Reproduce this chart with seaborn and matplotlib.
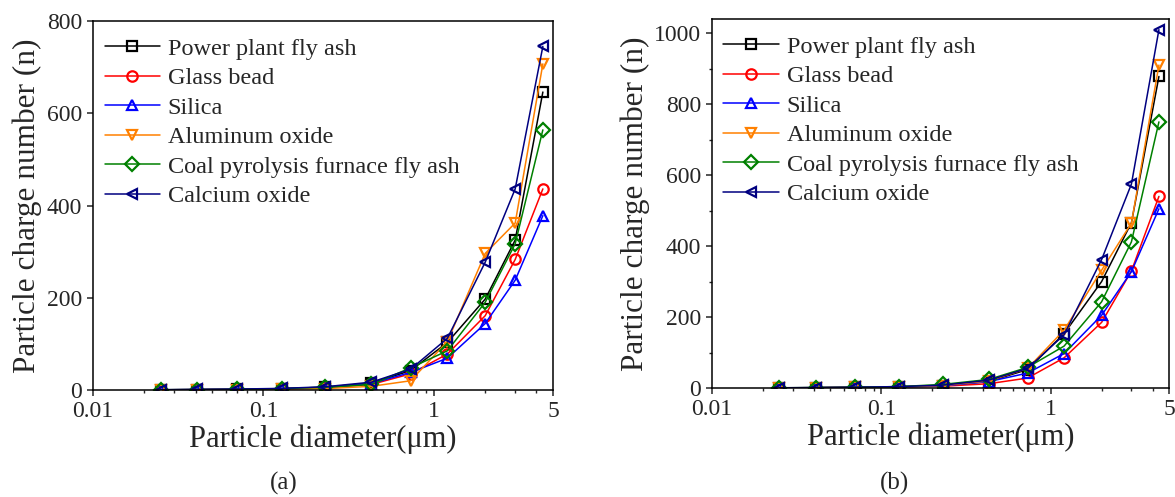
# Charge number vs particle diameter for six dust types, two operating conditions (a) and (b)

import matplotlib
matplotlib.use("Agg")
import matplotlib.pyplot as plt
from matplotlib.ticker import FixedLocator, NullFormatter, MultipleLocator
import pandas as pd
import seaborn as sns

# Particle diameters (um), same for every series
diameters = [0.025, 0.041, 0.07, 0.128, 0.23, 0.43, 0.73, 1.2, 2.0, 3.0, 4.36]

materials = ["Power plant fly ash", "Glass bead", "Silica", "Aluminum oxide",
             "Coal pyrolysis furnace fly ash", "Calcium oxide"]

# Panel (a) charge numbers
fly_ash_a = [0.5, 1, 1.5, 3, 6, 15, 42, 103, 197, 325, 646]
glass_a = [0.4, 0.8, 1.3, 2.5, 5, 12, 35, 78, 161, 283, 436]
silica_a = [0.4, 0.8, 1.3, 2.5, 5, 14, 38, 69, 144, 238, 378]
alumina_a = [0.3, 0.6, 1, 2, 3, 8, 20, 105, 296, 362, 707]
coal_a = [0.5, 1, 1.5, 3, 6, 12, 48, 85, 190, 317, 564]
cao_a = [0.6, 1.2, 2, 3.5, 7, 17, 45, 112, 277, 436, 745]

# Panel (b) charge numbers
fly_ash_b = [0.5, 1, 2, 3.5, 7, 18, 52, 153, 300, 466, 878]
glass_b = [0.4, 0.8, 1.5, 3, 5, 12, 28, 85, 185, 330, 540]
silica_b = [0.4, 0.9, 1.6, 3, 6, 18, 42, 97, 205, 328, 505]
alumina_b = [0.4, 0.9, 1.8, 3.5, 7, 20, 55, 163, 332, 465, 910]
coal_b = [0.6, 1.2, 2.2, 4, 10, 24, 58, 118, 243, 412, 750]
cao_b = [0.6, 1.2, 2.2, 4, 8, 22, 55, 150, 362, 575, 1010]

colors = ["black", "#FF0000", "#0000FF", "#FF8000", "#008000", "#000080"]
markers = ["s", "o", "^", "v", "D", "<"]

# Long-form tables for seaborn
def make_df(series):
    rows = []
    for name, vals in zip(materials, series):
        for d, v in zip(diameters, vals):
            rows.append({"Diameter": d, "Charge": v, "Material": name})
    return pd.DataFrame(rows)

df_a = make_df([fly_ash_a, glass_a, silica_a, alumina_a, coal_a, cao_a])
df_b = make_df([fly_ash_b, glass_b, silica_b, alumina_b, coal_b, cao_b])

sns.set_theme(style="ticks")
plt.rcParams["font.family"] = ["Liberation Serif", "DejaVu Serif"]
plt.rcParams["axes.linewidth"] = 1.1

fig = plt.figure(figsize=(11.75, 4.97), dpi=100)
ax_a = fig.add_axes([93 / 1175, 1 - 390 / 497, 460 / 1175, 369 / 497])
ax_b = fig.add_axes([712 / 1175, 1 - 388 / 497, 457 / 1175, 369 / 497])


def draw_panel(ax, df, ymax, yticks, minor_y):
    for name, col, mk in zip(materials, colors, markers):
        sub = df[df["Material"] == name]
        sns.lineplot(data=sub, x="Diameter", y="Charge", ax=ax, color=col,
                     marker=mk, markersize=7.5, markerfacecolor="none",
                     markeredgecolor=col, markeredgewidth=1.6,
                     linewidth=1.1, label=name)
    ax.set_xscale("log")
    ax.set_xlim(0.01, 5)
    ax.set_ylim(0, ymax)
    ax.xaxis.set_major_locator(FixedLocator([0.01, 0.1, 1, 5]))
    ax.set_xticklabels(["0.01", "0.1", "1", "5"])
    minors = [m * 10.0 ** e for e in (-2, -1, 0) for m in range(2, 10)]
    ax.xaxis.set_minor_locator(FixedLocator([m for m in minors if m < 5]))
    ax.xaxis.set_minor_formatter(NullFormatter())
    ax.set_yticks(yticks)
    if minor_y:
        ax.yaxis.set_minor_locator(MultipleLocator(100))
    ax.tick_params(which="major", direction="out", length=4, width=1.1,
                   labelsize=17, pad=4, top=False, right=False)
    ax.tick_params(which="minor", direction="out", length=2.5, width=1.0,
                   top=False, right=False)
    if not minor_y:
        ax.tick_params(axis="y", which="minor", left=False)
    for sp in ax.spines.values():
        sp.set_visible(True)
        sp.set_linewidth(1.1)
        sp.set_color("black")
    ax.set_xlabel("Particle diameter(μm)", fontsize=22, labelpad=2)
    ax.set_ylabel("Particle charge number (n)", fontsize=22.5, labelpad=3)
    ax.grid(False)
    ax.legend(loc="upper left", bbox_to_anchor=(0.025, 0.955), frameon=False,
              fontsize=17.5, handlelength=2.3, handletextpad=0.3,
              labelspacing=0.31, borderpad=0, borderaxespad=0)


draw_panel(ax_a, df_a, 800, [0, 200, 400, 600, 800], False)
draw_panel(ax_b, df_b, 1040, [0, 200, 400, 600, 800, 1000], True)

fig.text(284 / 1175, 1 - 483 / 497, "(a)", fontsize=18, ha="center", va="center")
fig.text(894 / 1175, 1 - 483 / 497, "(b)", fontsize=18, ha="center", va="center")

fig.savefig("out.png", dpi=100)
